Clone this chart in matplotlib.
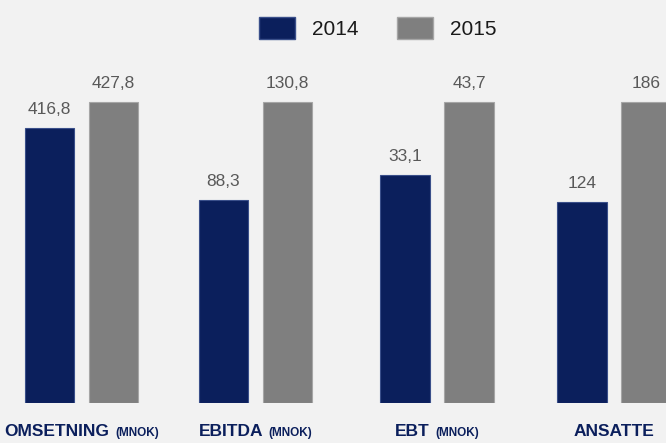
import matplotlib.pyplot as plt
from matplotlib.patches import Patch
from matplotlib.offsetbox import TextArea, HPacker, AnnotationBbox

# Data
categories = ['OMSETNING', 'EBITDA', 'EBT', 'ANSATTE']
units = ['(MNOK)', '(MNOK)', '(MNOK)', '']
v2014 = [416.8, 88.3, 33.1, 124]
v2015 = [427.8, 130.8, 43.7, 186]
years = ['2014', '2015']
axis_base = [300, 0, 0, 0]  # omsetning axis does not start at zero

navy = '#0b1f5c'
grey = '#7f7f7f'
bg = '#f2f2f2'
font = ['Liberation Sans', 'DejaVu Sans']

W, H = 666, 443
fig = plt.figure(figsize=(W / 100, H / 100), dpi=100, facecolor=bg)

# left edge (px) of each group axes, baseline and height in px
lefts = [17.5, 191.5, 373, 550]
ax_w, ax_b, ax_h = 128, 40, 343
top_frac = 301 / 343

def fmt(v):
    return f'{v:g}'.replace('.', ',')

for i, cat in enumerate(categories):
    ax = fig.add_axes([lefts[i] / W, ax_b / H, ax_w / W, ax_h / H])
    ax.set_facecolor('none')
    vals = [v2014[i], v2015[i]]
    base = axis_base[i]
    bars = ax.bar([0, 1], [v - base for v in vals], bottom=base, width=0.78,
                  color=[navy, grey], edgecolor=['#3a4f8a', '#a6a6a6'], linewidth=0.8)
    ax.set_xlim(-0.5, 1.5)
    ax.set_ylim(base, base + (max(vals) - base) / top_frac)
    ax.axis('off')
    for b, v in zip(bars, vals):
        ax.annotate(fmt(v), (b.get_x() + b.get_width() / 2, v),
                    xytext=(0, 10), textcoords='offset points',
                    ha='center', va='baseline', fontsize=12.5, color='#595959', family=font)

    parts = [TextArea(cat, textprops=dict(fontsize=12.5, fontweight='bold', color=navy, family=font))]
    if units[i]:
        parts.append(TextArea(units[i], textprops=dict(fontsize=8.5, fontweight='bold', color=navy, family=font)))
    pack = HPacker(children=parts, align='baseline', pad=0, sep=4)
    ab = AnnotationBbox(pack, (0.5, 0), xycoords='axes fraction', xybox=(0, -20.5),
                        boxcoords='offset points', frameon=False, box_alignment=(0.5, 0.5))
    ax.add_artist(ab)

handles = [Patch(facecolor=navy, edgecolor='#3a4f8a', label=years[0]),
           Patch(facecolor=grey, edgecolor='#a6a6a6', label=years[1])]
fig.legend(handles=handles, loc='center', bbox_to_anchor=(0.567, 0.937), ncol=2,
           frameon=False, prop=dict(family=font, size=15), labelcolor='#1a1a1a',
           handlelength=1.73, handleheight=1.25, handletextpad=0.82, columnspacing=1.83)

fig.savefig('out.png', dpi=100, facecolor=bg)
